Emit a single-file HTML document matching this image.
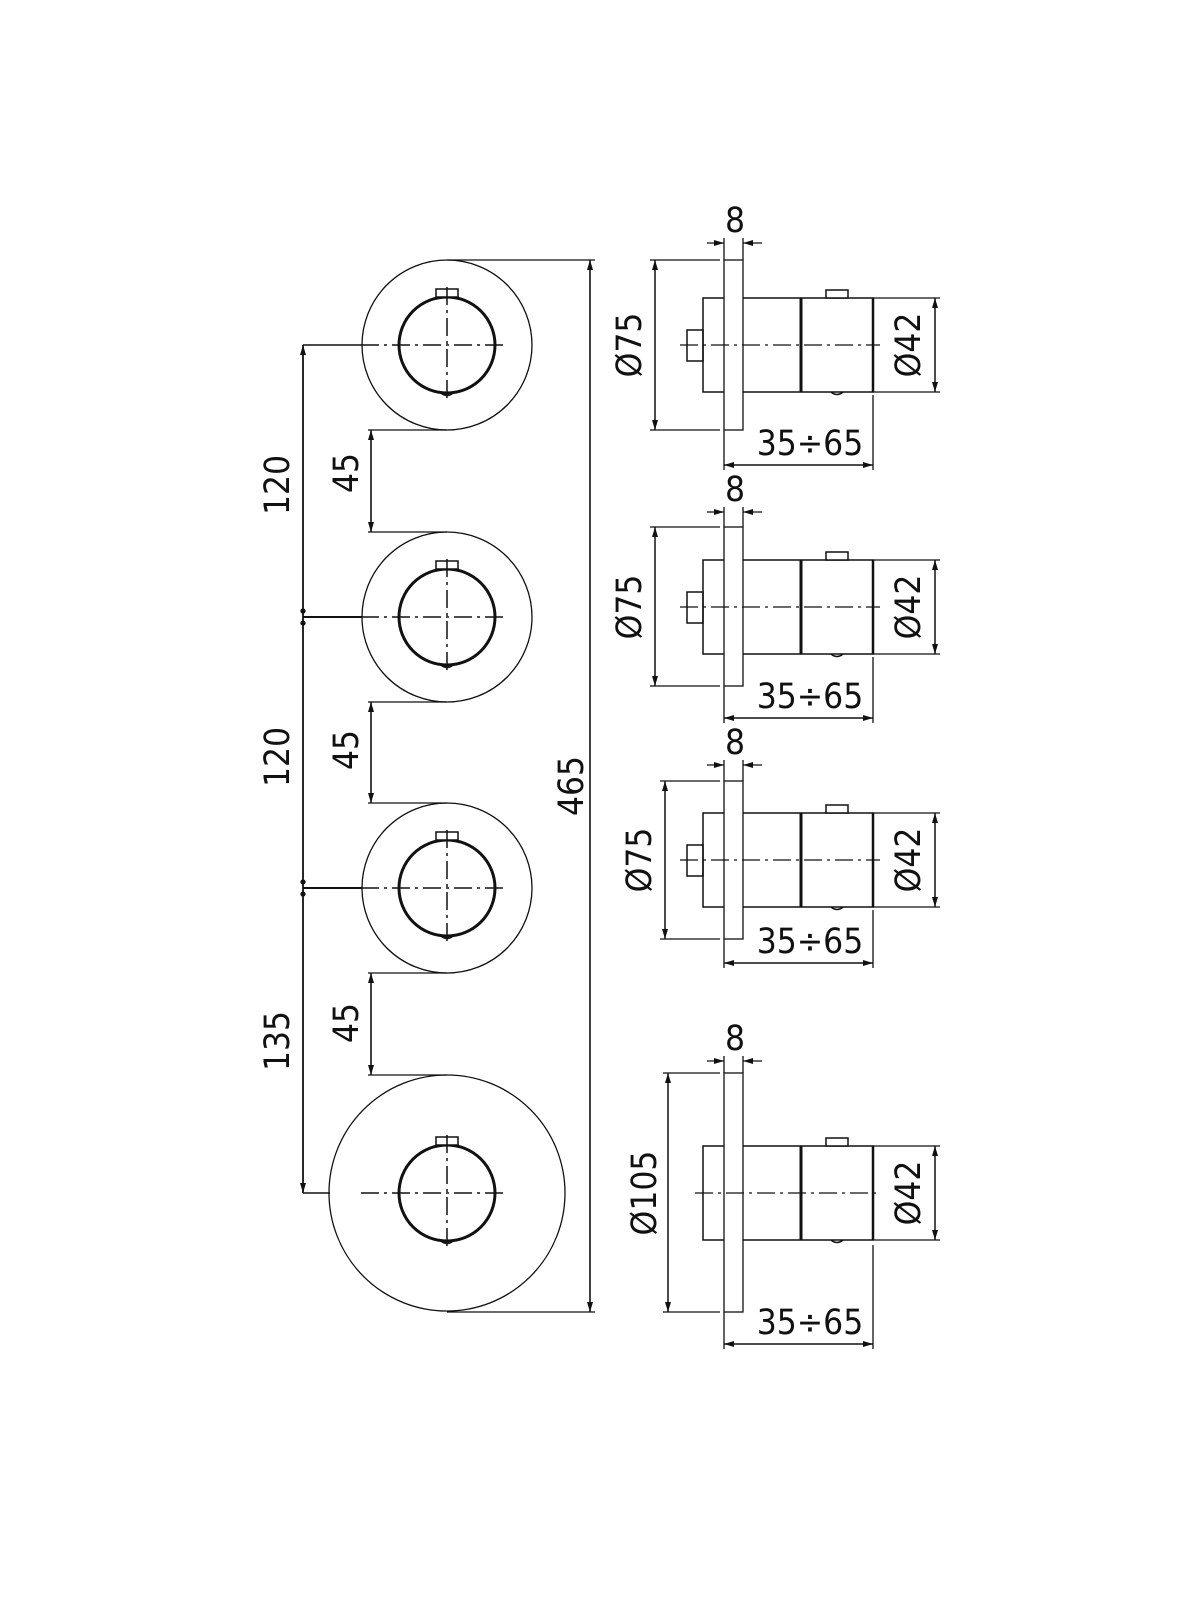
<!DOCTYPE html>
<html><head><meta charset="utf-8"><style>
html,body{margin:0;padding:0;background:#fff;}
svg{display:block;}
text{font-family:"DejaVu Sans Condensed","Liberation Sans",sans-serif;font-size:35px;fill:#111;}
</style></head><body>
<svg width="1200" height="1600" viewBox="0 0 1200 1600" xmlns="http://www.w3.org/2000/svg">
<defs>
<marker id="a" viewBox="0 0 10 6" refX="10" refY="3" markerWidth="10" markerHeight="6" markerUnits="userSpaceOnUse" orient="auto-start-reverse"><path d="M0,0 L10,3 L0,6 z" fill="#111"/></marker>
<g id="knob">
<circle cx="0" cy="0" r="48" fill="none" stroke="#111" stroke-width="3"/>
<rect x="-11" y="-56" width="22" height="8" fill="#fff" stroke="#111" stroke-width="1.5"/>
<path d="M-6,48 Q0,53 6,48" fill="none" stroke="#111" stroke-width="1.5"/>
<line x1="-86" y1="0" x2="58" y2="0" stroke="#111" stroke-width="1.5" stroke-dasharray="18,5,3,5"/>
<line x1="0" y1="-58" x2="0" y2="56" stroke="#111" stroke-width="1.5" stroke-dasharray="18,5,3,5"/>
</g>
<g id="body">
<rect x="703" y="-47" width="170" height="94" fill="none" stroke="#111" stroke-width="1.5"/>
<line x1="801" y1="-47" x2="801" y2="47" stroke="#111" stroke-width="3"/>
<line x1="873" y1="-47" x2="873" y2="47" stroke="#111" stroke-width="2.5"/>
<rect x="826" y="-55" width="22" height="8" fill="#fff" stroke="#111" stroke-width="1.5"/>
<path d="M831,47 Q837,52 843,47" fill="none" stroke="#111" stroke-width="1.5"/>
<line x1="873" y1="-47" x2="940" y2="-47" stroke="#111" stroke-width="1.2"/>
<line x1="873" y1="47" x2="940" y2="47" stroke="#111" stroke-width="1.2"/>
<line x1="935" y1="-47" x2="935" y2="47" stroke="#111" stroke-width="1.5" marker-start="url(#a)" marker-end="url(#a)"/>
<line x1="873" y1="50" x2="873" y2="0" stroke="#111" stroke-width="0"/>
</g>
<g id="stub"><rect x="687" y="-15" width="16" height="31" fill="none" stroke="#111" stroke-width="1.5"/></g>
</defs>

<g stroke="#111" fill="none" stroke-width="1.3">
<!-- front views -->
<circle cx="447" cy="345" r="85"/>
<circle cx="447" cy="617" r="85"/>
<circle cx="447" cy="888" r="85"/>
<circle cx="447" cy="1193" r="118"/>
<!-- left dims -->
<line x1="303" y1="345" x2="303" y2="1193" stroke-width="1.8" marker-start="url(#a)" marker-end="url(#a)"/>
<line x1="303" y1="345" x2="362" y2="345" stroke-width="1.5"/>
<line x1="303" y1="617" x2="362" y2="617" stroke-width="2"/>
<line x1="303" y1="888" x2="362" y2="888" stroke-width="2"/>
<line x1="303" y1="1193" x2="330" y2="1193" stroke-width="1.5"/>
<circle cx="303" cy="611" r="2" fill="#111"/><circle cx="303" cy="623" r="2" fill="#111"/>
<circle cx="303" cy="882" r="2" fill="#111"/><circle cx="303" cy="894" r="2" fill="#111"/>
<!-- 45 dims -->
<line x1="368" y1="430" x2="447" y2="430"/><line x1="368" y1="532" x2="447" y2="532"/>
<line x1="371" y1="430" x2="371" y2="532" stroke-width="1.6" marker-start="url(#a)" marker-end="url(#a)"/>
<line x1="368" y1="702" x2="447" y2="702"/><line x1="368" y1="803" x2="447" y2="803"/>
<line x1="371" y1="702" x2="371" y2="803" stroke-width="1.6" marker-start="url(#a)" marker-end="url(#a)"/>
<line x1="368" y1="973" x2="447" y2="973"/><line x1="368" y1="1075" x2="447" y2="1075"/>
<line x1="371" y1="973" x2="371" y2="1075" stroke-width="1.6" marker-start="url(#a)" marker-end="url(#a)"/>
<!-- 465 -->
<line x1="447" y1="260" x2="595" y2="260"/><line x1="447" y1="1312" x2="595" y2="1312"/>
<line x1="590" y1="260" x2="590" y2="1312" stroke-width="1.6" marker-start="url(#a)" marker-end="url(#a)"/>
</g>
<use href="#knob" transform="translate(447,345)"/>
<use href="#knob" transform="translate(447,617)"/>
<use href="#knob" transform="translate(447,888)"/>
<use href="#knob" transform="translate(447,1193)"/>

<!-- side views -->
<use href="#body" transform="translate(0,345)"/><use href="#stub" transform="translate(0,345)"/>
<use href="#body" transform="translate(0,607)"/><use href="#stub" transform="translate(0,607)"/>
<use href="#body" transform="translate(0,860)"/><use href="#stub" transform="translate(0,860)"/>
<use href="#body" transform="translate(0,1193)"/>
<g stroke="#111" fill="none" stroke-width="1.3">
<!-- plates -->
<rect x="724" y="260" width="19" height="170" fill="#fff"/>
<rect x="724" y="527" width="19" height="159" fill="#fff"/>
<rect x="724" y="781" width="19" height="158" fill="#fff"/>
<rect x="724" y="1073" width="19" height="239" fill="#fff"/>
<!-- centerlines -->
<line x1="680" y1="345" x2="880" y2="345" stroke-dasharray="18,5,3,5"/>
<line x1="680" y1="607" x2="880" y2="607" stroke-dasharray="18,5,3,5"/>
<line x1="680" y1="860" x2="880" y2="860" stroke-dasharray="18,5,3,5"/>
<line x1="695" y1="1193" x2="880" y2="1193" stroke-dasharray="18,5,3,5"/>
<!-- diameter dims -->
<line x1="650" y1="260" x2="720" y2="260"/><line x1="650" y1="430" x2="720" y2="430"/>
<line x1="655" y1="260" x2="655" y2="430" stroke-width="1.5" marker-start="url(#a)" marker-end="url(#a)"/>
<line x1="650" y1="527" x2="720" y2="527"/><line x1="650" y1="686" x2="720" y2="686"/>
<line x1="655" y1="527" x2="655" y2="686" stroke-width="1.5" marker-start="url(#a)" marker-end="url(#a)"/>
<line x1="660" y1="781" x2="720" y2="781"/><line x1="660" y1="939" x2="720" y2="939"/>
<line x1="665" y1="781" x2="665" y2="939" stroke-width="1.5" marker-start="url(#a)" marker-end="url(#a)"/>
<line x1="663" y1="1073" x2="720" y2="1073"/><line x1="663" y1="1312" x2="720" y2="1312"/>
<line x1="668" y1="1073" x2="668" y2="1312" stroke-width="1.5" marker-start="url(#a)" marker-end="url(#a)"/>
<!-- 8 dims -->
<line x1="724" y1="238" x2="724" y2="260"/><line x1="743" y1="238" x2="743" y2="260"/>
<line x1="707" y1="243" x2="724" y2="243" marker-end="url(#a)"/><line x1="762" y1="243" x2="743" y2="243" marker-end="url(#a)"/>
<line x1="724" y1="507" x2="724" y2="527"/><line x1="743" y1="507" x2="743" y2="527"/>
<line x1="707" y1="512" x2="724" y2="512" marker-end="url(#a)"/><line x1="762" y1="512" x2="743" y2="512" marker-end="url(#a)"/>
<line x1="724" y1="760" x2="724" y2="781"/><line x1="743" y1="760" x2="743" y2="781"/>
<line x1="707" y1="765" x2="724" y2="765" marker-end="url(#a)"/><line x1="762" y1="765" x2="743" y2="765" marker-end="url(#a)"/>
<line x1="724" y1="1056" x2="724" y2="1073"/><line x1="743" y1="1056" x2="743" y2="1073"/>
<line x1="707" y1="1061" x2="724" y2="1061" marker-end="url(#a)"/><line x1="762" y1="1061" x2="743" y2="1061" marker-end="url(#a)"/>
<!-- 35÷65 dims -->
<line x1="724" y1="430" x2="724" y2="470"/><line x1="873" y1="395" x2="873" y2="470"/>
<line x1="724" y1="465" x2="873" y2="465" stroke-width="1.5" marker-start="url(#a)" marker-end="url(#a)"/>
<line x1="724" y1="686" x2="724" y2="723"/><line x1="873" y1="657" x2="873" y2="723"/>
<line x1="724" y1="718" x2="873" y2="718" stroke-width="1.5" marker-start="url(#a)" marker-end="url(#a)"/>
<line x1="724" y1="939" x2="724" y2="968"/><line x1="873" y1="910" x2="873" y2="968"/>
<line x1="724" y1="963" x2="873" y2="963" stroke-width="1.5" marker-start="url(#a)" marker-end="url(#a)"/>
<line x1="724" y1="1312" x2="724" y2="1349"/><line x1="873" y1="1245" x2="873" y2="1349"/>
<line x1="724" y1="1344" x2="873" y2="1344" stroke-width="1.5" marker-start="url(#a)" marker-end="url(#a)"/>
</g>

<!-- texts -->
<g text-anchor="middle" dominant-baseline="central">
<text transform="translate(278,485) rotate(-90)">120</text>
<text transform="translate(278,757) rotate(-90)">120</text>
<text transform="translate(278,1041) rotate(-90)">135</text>
<text transform="translate(347,473) rotate(-90)">45</text>
<text transform="translate(347,750) rotate(-90)">45</text>
<text transform="translate(347,1023) rotate(-90)">45</text>
<text transform="translate(572,786) rotate(-90)">465</text>
<text transform="translate(630,345) rotate(-90)">Ø75</text>
<text transform="translate(630,607) rotate(-90)">Ø75</text>
<text transform="translate(640,860) rotate(-90)">Ø75</text>
<text transform="translate(645,1193) rotate(-90)">Ø105</text>
<text transform="translate(909,345) rotate(-90)">Ø42</text>
<text transform="translate(909,607) rotate(-90)">Ø42</text>
<text transform="translate(909,860) rotate(-90)">Ø42</text>
<text transform="translate(909,1193) rotate(-90)">Ø42</text>
<text x="735" y="221">8</text>
<text x="735" y="490">8</text>
<text x="735" y="743">8</text>
<text x="735" y="1039">8</text>
<text x="810" y="444">35÷65</text>
<text x="810" y="697">35÷65</text>
<text x="810" y="942">35÷65</text>
<text x="810" y="1323">35÷65</text>
</g>
</svg>
</body></html>
